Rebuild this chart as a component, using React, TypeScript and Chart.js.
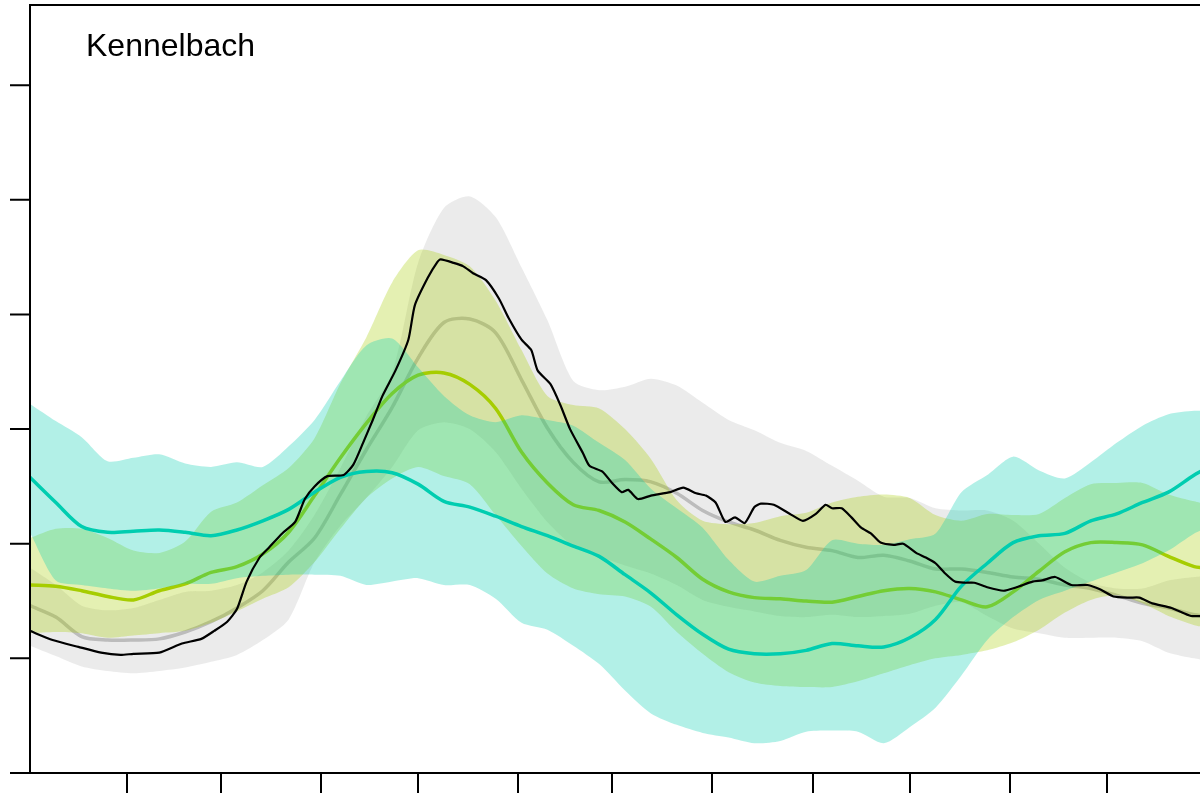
import React, { useEffect, useRef } from "react";
import { Chart, registerables } from "chart.js";

Chart.register(...registerables);

const STATION = "Kennelbach";

// tick positions (day of year) and y tick values
const monthTickDays = [32, 61, 92, 122, 153, 182, 213, 244, 274, 305, 335];
const yTickValues = [0, 1, 2, 3, 4, 5, 6];

// common day grid for the envelopes and medians
const bandDays = [2, 10, 18, 26, 34, 42, 50, 58, 66, 74, 82, 90, 98, 106, 114, 122, 130, 138, 146, 154, 162, 170, 178, 186, 194, 202, 210, 218, 226, 234, 242, 250, 258, 266, 274, 282, 290, 298, 306, 314, 322, 330, 338, 346, 354, 362, 366];

// grey envelope + median
const greyUpper = [1.79, 1.64, 1.46, 1.42, 1.44, 1.51, 1.58, 1.59, 1.64, 1.75, 1.94, 2.25, 2.66, 3.11, 3.49, 4.45, 4.93, 5.03, 4.85, 4.41, 3.95, 3.42, 3.34, 3.37, 3.44, 3.38, 3.23, 3.08, 2.99, 2.88, 2.81, 2.68, 2.55, 2.41, 2.40, 2.31, 2.29, 2.29, 2.20, 2.00, 1.79, 1.66, 1.61, 1.61, 1.68, 1.71, 1.72];
const greyLower = [1.11, 1.02, 0.93, 0.89, 0.87, 0.89, 0.92, 0.97, 1.03, 1.16, 1.34, 1.84, 2.16, 2.40, 2.67, 2.99, 3.06, 3.00, 2.80, 2.48, 2.19, 1.98, 1.89, 1.81, 1.74, 1.64, 1.51, 1.45, 1.41, 1.37, 1.36, 1.38, 1.36, 1.37, 1.39, 1.46, 1.49, 1.37, 1.26, 1.22, 1.18, 1.18, 1.18, 1.15, 1.05, 1.00, 0.98];
const greyMedian = [1.46, 1.36, 1.19, 1.16, 1.16, 1.17, 1.23, 1.32, 1.44, 1.59, 1.84, 2.05, 2.43, 2.82, 3.19, 3.62, 3.93, 3.96, 3.84, 3.43, 3.01, 2.71, 2.54, 2.56, 2.54, 2.44, 2.29, 2.19, 2.12, 2.03, 1.97, 1.94, 1.88, 1.90, 1.85, 1.78, 1.78, 1.75, 1.71, 1.69, 1.64, 1.61, 1.55, 1.48, 1.44, 1.38, 1.37];

// yellow-green envelope + median
const yellowUpper = [2.05, 2.13, 2.13, 2.05, 1.94, 1.92, 2.02, 2.28, 2.36, 2.51, 2.66, 2.92, 3.40, 3.80, 4.28, 4.56, 4.52, 4.42, 4.12, 3.69, 3.29, 3.21, 3.18, 3.00, 2.74, 2.38, 2.20, 2.17, 2.18, 2.24, 2.27, 2.36, 2.41, 2.43, 2.40, 2.25, 2.20, 2.26, 2.25, 2.26, 2.40, 2.52, 2.53, 2.53, 2.43, 2.37, 2.34];
const yellowLower = [1.22, 1.23, 1.22, 1.18, 1.20, 1.22, 1.24, 1.31, 1.41, 1.52, 1.62, 1.84, 2.13, 2.40, 2.57, 2.67, 2.59, 2.52, 2.25, 1.98, 1.74, 1.61, 1.56, 1.54, 1.45, 1.23, 1.04, 0.88, 0.79, 0.76, 0.75, 0.75, 0.80, 0.87, 0.94, 1.00, 1.03, 1.07, 1.14, 1.25, 1.40, 1.51, 1.55, 1.48, 1.37, 1.29, 1.27];
const yellowMedian = [1.64, 1.63, 1.59, 1.54, 1.51, 1.59, 1.65, 1.75, 1.80, 1.91, 2.10, 2.42, 2.75, 3.05, 3.31, 3.47, 3.49, 3.39, 3.18, 2.80, 2.53, 2.34, 2.29, 2.19, 2.04, 1.88, 1.69, 1.58, 1.53, 1.52, 1.50, 1.49, 1.54, 1.59, 1.61, 1.58, 1.51, 1.45, 1.58, 1.76, 1.93, 2.01, 2.01, 1.99, 1.89, 1.80, 1.79];

// turquoise envelope + median
const turqUpper = [3.22, 3.07, 2.93, 2.72, 2.75, 2.78, 2.70, 2.67, 2.71, 2.67, 2.85, 3.08, 3.42, 3.73, 3.79, 3.54, 3.29, 3.12, 3.06, 3.12, 3.08, 3.03, 2.88, 2.73, 2.48, 2.31, 2.14, 1.86, 1.67, 1.72, 1.77, 2.03, 2.00, 1.99, 2.04, 2.09, 2.45, 2.60, 2.76, 2.64, 2.57, 2.71, 2.88, 3.03, 3.13, 3.16, 3.16];
const turqLower = [2.10, 1.68, 1.64, 1.61, 1.59, 1.61, 1.65, 1.65, 1.70, 1.72, 1.73, 1.73, 1.72, 1.64, 1.67, 1.70, 1.64, 1.64, 1.52, 1.31, 1.25, 1.11, 0.95, 0.72, 0.52, 0.42, 0.35, 0.31, 0.26, 0.28, 0.36, 0.37, 0.36, 0.26, 0.40, 0.57, 0.85, 1.16, 1.36, 1.51, 1.59, 1.67, 1.75, 1.83, 1.94, 2.09, 2.14];
const turqMedian = [2.58, 2.36, 2.15, 2.10, 2.11, 2.12, 2.10, 2.07, 2.12, 2.20, 2.30, 2.45, 2.58, 2.63, 2.62, 2.52, 2.37, 2.32, 2.24, 2.15, 2.07, 1.98, 1.89, 1.73, 1.57, 1.38, 1.21, 1.08, 1.04, 1.04, 1.07, 1.13, 1.11, 1.10, 1.18, 1.34, 1.63, 1.83, 2.01, 2.07, 2.09, 2.20, 2.26, 2.36, 2.45, 2.60, 2.66];

// current year (black)
const currentDays = [2, 9, 17, 24, 30, 34, 42, 49, 55, 59, 63, 66, 69, 73, 76, 80, 84, 87, 90, 94, 99, 102, 105, 108, 111, 115, 119, 121, 125, 128, 129, 133, 136, 139, 143, 147, 150, 154, 157, 159, 163, 166, 169, 173, 175, 179, 182, 185, 187, 190, 194, 200, 204, 208, 211, 214, 217, 220, 223, 226, 228, 232, 237, 241, 245, 248, 250, 253, 256, 259, 262, 265, 269, 272, 276, 279, 282, 285, 288, 291, 294, 298, 303, 307, 312, 315, 319, 324, 329, 333, 337, 342, 345, 349, 355, 361, 365];
const currentValues = [1.24, 1.16, 1.10, 1.05, 1.03, 1.04, 1.05, 1.13, 1.17, 1.24, 1.32, 1.43, 1.67, 1.88, 1.97, 2.09, 2.19, 2.39, 2.50, 2.59, 2.60, 2.69, 2.88, 3.08, 3.29, 3.51, 3.78, 4.08, 4.32, 4.46, 4.48, 4.45, 4.42, 4.36, 4.30, 4.14, 3.97, 3.78, 3.69, 3.51, 3.39, 3.21, 3.00, 2.79, 2.68, 2.63, 2.53, 2.45, 2.47, 2.39, 2.42, 2.45, 2.49, 2.44, 2.42, 2.36, 2.19, 2.23, 2.18, 2.32, 2.35, 2.34, 2.26, 2.20, 2.26, 2.34, 2.31, 2.31, 2.23, 2.14, 2.09, 2.01, 1.99, 2.00, 1.92, 1.88, 1.83, 1.74, 1.67, 1.66, 1.66, 1.62, 1.59, 1.62, 1.67, 1.68, 1.71, 1.64, 1.64, 1.60, 1.54, 1.53, 1.53, 1.48, 1.44, 1.37, 1.37];

const GREY = "rgb(188,188,188)";
const GREY_FILL = "rgba(190,190,190,0.3)";
const YELLOW = "rgb(166,205,0)";
const YELLOW_FILL = "rgba(166,205,0,0.3)";
const TURQ = "rgb(0,205,176)";
const TURQ_FILL = "rgba(0,205,176,0.3)";

const pts = (xs: number[], ys: number[]) => xs.map((x, i) => ({ x, y: ys[i] }));

const edge = (data: number[], order: number, fill: any, bg: string) => ({
  data: pts(bandDays, data),
  borderColor: "transparent",
  borderWidth: 0,
  backgroundColor: bg,
  pointRadius: 0,
  fill,
  order,
  tension: 0.25,
});

const median = (data: number[], color: string, order: number, width: number) => ({
  data: pts(bandDays, data),
  borderColor: color,
  borderWidth: width,
  pointRadius: 0,
  fill: false,
  order,
  tension: 0.3,
  borderCapStyle: "round",
  borderJoinStyle: "round",
});

const framePlugin = {
  id: "frame",
  afterDraw(chart: any) {
    const { ctx, chartArea: a, scales } = chart;
    const xs = scales.x;
    const ys = scales.y;
    ctx.save();
    ctx.strokeStyle = "#000";
    ctx.lineWidth = 2;
    ctx.lineCap = "butt";
    ctx.beginPath();
    ctx.moveTo(a.right + 4, a.top);
    ctx.lineTo(a.left, a.top);
    ctx.lineTo(a.left, a.bottom);
    ctx.lineTo(a.right + 4, a.bottom);
    yTickValues.forEach((v) => {
      const y = ys.getPixelForValue(v);
      ctx.moveTo(a.left - 20, y);
      ctx.lineTo(a.left, y);
    });
    monthTickDays.forEach((d) => {
      const x = Math.round(xs.getPixelForValue(d));
      ctx.moveTo(x, a.bottom);
      ctx.lineTo(x, a.bottom + 22);
    });
    ctx.stroke();
    ctx.fillStyle = "#000";
    ctx.font = '32px "Liberation Sans", Arial, sans-serif';
    ctx.textBaseline = "alphabetic";
    ctx.textAlign = "left";
    ctx.fillText(STATION, 86, 56);
    ctx.restore();
  },
};

export default function App() {
  const ref = useRef<HTMLCanvasElement | null>(null);
  useEffect(() => {
    if (!ref.current) return;
    const chart = new Chart(ref.current, {
      type: "line",
      data: {
        datasets: [
          edge(greyUpper, 10, false, GREY_FILL),
          edge(greyLower, 9, "-1", GREY_FILL),
          median(greyMedian, GREY, 8, 3.5),
          edge(yellowUpper, 7, false, YELLOW_FILL),
          edge(yellowLower, 6, "-1", YELLOW_FILL),
          median(yellowMedian, YELLOW, 5, 3.5),
          edge(turqUpper, 4, false, TURQ_FILL),
          edge(turqLower, 3, "-1", TURQ_FILL),
          median(turqMedian, TURQ, 2, 3.5),
          {
            data: pts(currentDays, currentValues),
            borderColor: "#000",
            borderWidth: 2.2,
            pointRadius: 0,
            fill: false,
            order: 0,
            tension: 0.2,
            borderJoinStyle: "round",
          },
        ] as any,
      },
      options: {
        responsive: false,
        animation: false,
        devicePixelRatio: 1,
        layout: { padding: { left: 30, top: 5, right: 0, bottom: 20 } },
        scales: {
          x: { type: "linear", display: false, min: 2.02, max: 363.77 },
          y: { type: "linear", display: false, min: 0, max: 6.7 },
        },
        plugins: {
          legend: { display: false },
          tooltip: { enabled: false },
        },
      },
      plugins: [framePlugin],
    });
    return () => chart.destroy();
  }, []);
  return (
    <div style={{ position: "fixed", left: 0, top: 0, width: 1200, height: 793, background: "#fff" }}>
      <canvas ref={ref} width={1200} height={793} style={{ display: "block" }} />
    </div>
  );
}
